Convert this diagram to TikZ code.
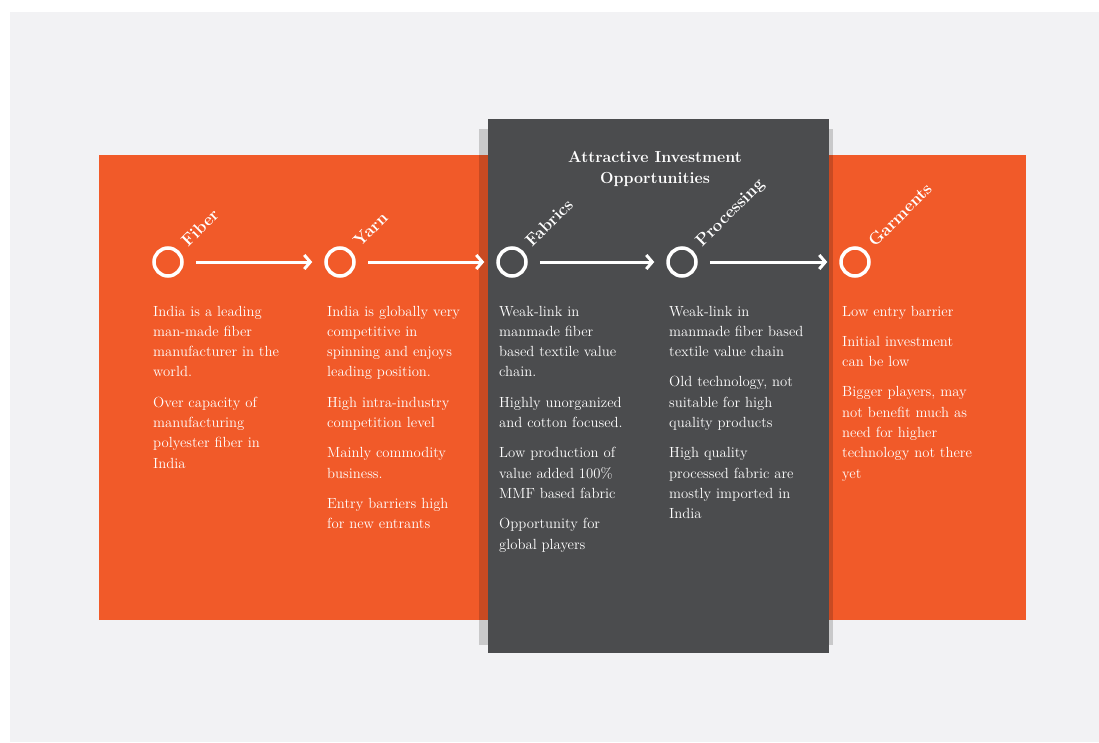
\documentclass[tikz,border=0pt]{standalone}
\usetikzlibrary{arrows.meta,calc}
\definecolor{bgrey}{HTML}{F2F2F4}
\definecolor{orng}{HTML}{F15A29}
\definecolor{dgrey}{HTML}{4B4C4E}
\begin{document}
\begin{tikzpicture}[x=1pt,y=-1pt,
  stage/.style={circle,draw=white,line width=3.5pt,minimum size=28pt,inner sep=0pt},
  flow/.style={draw=white,line width=3pt,-{Straight Barb[length=6pt,width=14pt]},shorten <=12pt,shorten >=12pt},
  lbl/.style={text=white,font=\fontsize{17}{19}\selectfont\bfseries,rotate=45,anchor=base west,inner sep=0pt},
  desc/.style={text=white,font=\fontsize{14.7}{20.3}\selectfont,align=left,anchor=base west,inner sep=0pt,text width=170pt},
  ttl/.style={text=white,font=\fontsize{16}{21}\selectfont\bfseries,align=center,inner sep=0pt},
]
\useasboundingbox (0,0) rectangle (1099,742);
\fill[white] (0,0) rectangle (1099,742);
\fill[bgrey] (10,12) rectangle (1099,742);
\fill[orng] (99,155) rectangle (1026,620);
\fill[black,opacity=0.17] (479,129) rectangle (833,645);
\fill[dgrey] (488,119) rectangle (829,653);

\node[ttl] (title) at (655,169) {Attractive Investment\\Opportunities};

\node[stage] (c1) at (168,262) {};
\node[stage] (c2) at (340,262) {};
\node[stage] (c3) at (512,262) {};
\node[stage] (c4) at (682,262) {};
\node[stage] (c5) at (855,262) {};

\draw[flow] (c1) -- (c2);
\draw[flow] (c2) -- (c3);
\draw[flow] (c3) -- (c4);
\draw[flow] (c4) -- (c5);

\node[lbl] (l1) at ($(c1)+(20,-14)$) {Fiber};
\node[lbl] (l2) at ($(c2)+(20,-14)$) {Yarn};
\node[lbl] (l3) at ($(c3)+(20,-14)$) {Fabrics};
\node[lbl] (l4) at ($(c4)+(20,-14)$) {Processing};
\node[lbl] (l5) at ($(c5)+(20,-14)$) {Garments};

\node[desc] (d1) at (153,316) {India is a leading\\man-made fiber\\manufacturer in the\\world.\\[10pt]Over capacity of\\manufacturing\\polyester fiber in\\India};
\node[desc] (d2) at (327,316) {India is globally very\\competitive in\\spinning and enjoys\\leading position.\\[10pt]High intra-industry\\competition level\\[10pt]Mainly commodity\\business.\\[10pt]Entry barriers high\\for new entrants};
\node[desc] (d3) at (499,316) {Weak-link in\\manmade fiber\\based textile value\\chain.\\[10pt]Highly unorganized\\and cotton focused.\\[10pt]Low production of\\value added 100\%\\MMF based fabric\\[10pt]Opportunity for\\global players};
\node[desc] (d4) at (669,316) {Weak-link in\\manmade fiber based\\textile value chain\\[10pt]Old technology, not\\suitable for high\\quality products\\[10pt]High quality\\processed fabric are\\mostly imported in\\India};
\node[desc] (d5) at (842,316) {Low entry barrier\\[10pt]Initial investment\\can be low\\[10pt]Bigger players, may\\not benefit much as\\need for higher\\technology not there\\yet};
\end{tikzpicture}
\end{document}
